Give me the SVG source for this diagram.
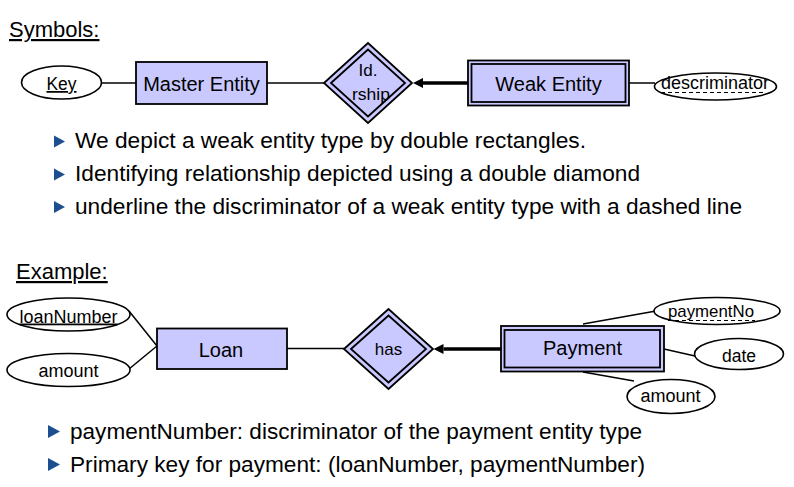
<svg xmlns="http://www.w3.org/2000/svg" width="794" height="487" viewBox="0 0 794 487">
<defs>
<style>
.t{font-family:"Liberation Sans",Arial,sans-serif;fill:#000}
.ent{fill:#c9c9ff;stroke:#000;stroke-width:1.8}
.attr{fill:#fff;stroke:#000;stroke-width:1.6}
.conn{stroke:#000;stroke-width:1.5;fill:none}
.ident{stroke:#000;stroke-width:3.5;fill:none}
.dash{stroke:#000;stroke-width:1.2;stroke-dasharray:4 3}
.bul{fill:#1d4e8f}
</style>
<marker id="ah" viewBox="0 0 10 10" refX="0" refY="5" markerWidth="10" markerHeight="10" markerUnits="userSpaceOnUse" orient="auto">
<path d="M0,0 L10,5 L0,10 z" fill="#000"/>
</marker>
</defs>
<rect width="794" height="487" fill="#fff"/>

<text class="t" x="9" y="37" font-size="22" text-decoration="underline">Symbols:</text>
<text class="t" x="16" y="279" font-size="22" text-decoration="underline">Example:</text>

<g id="connectors">
<line class="conn" x1="102" y1="83" x2="136" y2="83"/>
<line class="conn" x1="267" y1="83" x2="324" y2="83"/>
<line class="ident" x1="468" y1="83" x2="423" y2="83" marker-end="url(#ah)"/>
<line class="conn" x1="629" y1="83" x2="655" y2="83"/>
<line class="conn" x1="129" y1="311" x2="157" y2="346"/>
<line class="conn" x1="129" y1="369" x2="157" y2="346"/>
<line class="conn" x1="287" y1="348.5" x2="344" y2="348.5"/>
<line class="ident" x1="501" y1="349" x2="443.5" y2="349" marker-end="url(#ah)"/>
<line class="conn" x1="583" y1="324" x2="656" y2="311"/>
<line class="conn" x1="664" y1="349" x2="695" y2="356"/>
<line class="conn" x1="583" y1="372" x2="634" y2="381"/>
</g>

<g id="key">
<ellipse class="attr" cx="61.5" cy="82.5" rx="40" ry="16.5"/>
<text class="t" x="46.5" y="90" font-size="17.5" textLength="30" lengthAdjust="spacingAndGlyphs" text-decoration="underline">Key</text>
</g>
<g id="master-entity">
<rect class="ent" x="136" y="62" width="131" height="42"/>
<text class="t" x="201.5" y="91" font-size="20" text-anchor="middle">Master Entity</text>
</g>
<g id="id-rship">
<polygon class="ent" points="324,83 368,43 412,83 368,123" stroke-width="2.2"/>
<polygon class="ent" points="331,83 368,49.5 405,83 368,116.5" stroke-width="1.5"/>
<text class="t" x="368" y="76" font-size="17" text-anchor="middle">Id.</text>
<text class="t" x="352" y="100" font-size="17" textLength="38" lengthAdjust="spacingAndGlyphs">rship</text>
</g>
<g id="weak-entity">
<rect class="ent" x="468" y="60.5" width="161" height="45" stroke-width="2.2"/>
<rect class="ent" x="471.5" y="64" width="154" height="38" stroke-width="2"/>
<text class="t" x="548.5" y="91" font-size="20" text-anchor="middle">Weak Entity</text>
</g>
<g id="descriminator">
<ellipse class="attr" cx="715.5" cy="86.5" rx="61" ry="13.5"/>
<text class="t" x="661" y="88.5" font-size="17.5" textLength="108" lengthAdjust="spacingAndGlyphs">descriminator</text>
<line class="dash" x1="661" y1="92.5" x2="764" y2="92.5"/>
</g>

<g id="bullets-top">
<polygon class="bul" points="54,135.5 54,147.5 65,141.5"/>
<text class="t" x="75" y="148" font-size="22" textLength="511" lengthAdjust="spacingAndGlyphs">We depict a weak entity type by double rectangles.</text>
<polygon class="bul" points="54,168.5 54,180.5 65,174.5"/>
<text class="t" x="75" y="181" font-size="22" textLength="565" lengthAdjust="spacingAndGlyphs">Identifying relationship depicted using a double diamond</text>
<polygon class="bul" points="54,201 54,213 65,207"/>
<text class="t" x="75" y="213.5" font-size="22" textLength="667" lengthAdjust="spacingAndGlyphs">underline the discriminator of a weak entity type with a dashed line</text>
</g>

<g id="loanNumber">
<ellipse class="attr" cx="68.5" cy="314.5" rx="61.5" ry="16.5"/>
<text class="t" x="19.5" y="322.5" font-size="18" textLength="98" lengthAdjust="spacingAndGlyphs" text-decoration="underline">loanNumber</text>
</g>
<g id="loan-amount">
<ellipse class="attr" cx="68.5" cy="370" rx="61.5" ry="16.5"/>
<text class="t" x="68.5" y="376.5" font-size="18" text-anchor="middle">amount</text>
</g>
<g id="loan">
<rect class="ent" x="157" y="328.5" width="130" height="40.5"/>
<text class="t" x="221" y="356.5" font-size="20" text-anchor="middle">Loan</text>
</g>
<g id="has">
<polygon class="ent" points="344,349 388.5,309 433,349 388.5,389" stroke-width="2.2"/>
<polygon class="ent" points="351,349 388.5,315.5 426,349 388.5,382.5" stroke-width="1.5"/>
<text class="t" x="388.5" y="355" font-size="17" text-anchor="middle">has</text>
</g>
<g id="payment">
<rect class="ent" x="501" y="326" width="163" height="45.5" stroke-width="2.2"/>
<rect class="ent" x="504.5" y="330" width="155.5" height="37.5" stroke-width="2"/>
<text class="t" x="582.5" y="355" font-size="20" text-anchor="middle">Payment</text>
</g>
<g id="paymentNo">
<ellipse class="attr" cx="717" cy="311" rx="63" ry="13.5"/>
<text class="t" x="668" y="317" font-size="17" textLength="86" lengthAdjust="spacingAndGlyphs">paymentNo</text>
<line class="dash" x1="668" y1="320.5" x2="755" y2="320.5"/>
</g>
<g id="date">
<ellipse class="attr" cx="739" cy="354" rx="44.5" ry="15.5"/>
<text class="t" x="739" y="361.5" font-size="17.5" text-anchor="middle">date</text>
</g>
<g id="payment-amount">
<ellipse class="attr" cx="671" cy="396.5" rx="44" ry="17"/>
<text class="t" x="670.5" y="401.5" font-size="18" text-anchor="middle">amount</text>
</g>

<g id="bullets-bottom">
<polygon class="bul" points="48,425 48,438 60,431.5"/>
<text class="t" x="70" y="439" font-size="22" textLength="572" lengthAdjust="spacingAndGlyphs">paymentNumber: discriminator of the payment entity type</text>
<polygon class="bul" points="48,458 48,471 60,464.5"/>
<text class="t" x="70" y="472" font-size="22" textLength="575" lengthAdjust="spacingAndGlyphs">Primary key for payment: (loanNumber, paymentNumber)</text>
</g>
</svg>
